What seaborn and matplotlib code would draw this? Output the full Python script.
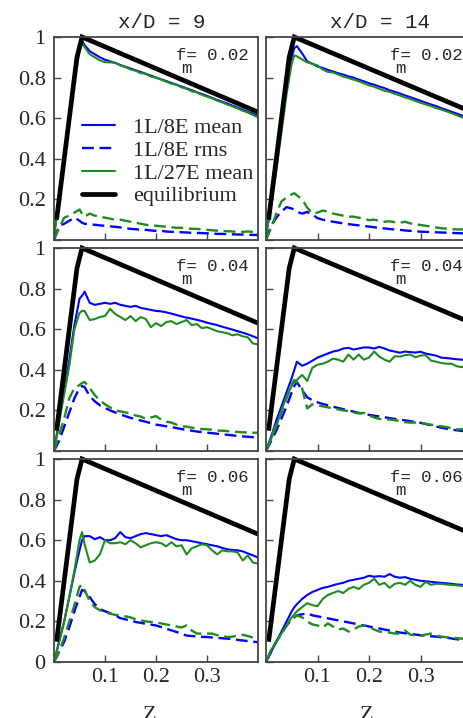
import matplotlib
matplotlib.use('Agg')
import matplotlib.pyplot as plt
from matplotlib.lines import Line2D
import seaborn as sns

sns.set_style('ticks')
plt.rcParams['font.family'] = ['Liberation Serif', 'DejaVu Serif']

# ---------------- data ----------------
Z = [0.0, 0.01, 0.02, 0.03, 0.04, 0.05, 0.055,
     0.06, 0.07, 0.08, 0.09, 0.10,
     0.11, 0.12, 0.13, 0.14, 0.15, 0.16, 0.17, 0.18, 0.19, 0.20,
     0.21, 0.22, 0.23, 0.24, 0.25, 0.26, 0.27, 0.28, 0.29, 0.30,
     0.31, 0.32, 0.33, 0.34, 0.35, 0.36, 0.37, 0.38, 0.39, 0.40]

EQ_Z = [0.005, 0.045, 0.055, 0.40]
EQ_Y = [0.10, 0.90, 1.00, 0.63]

# x/D = 9, f_m = 0.02
b1_mean = [0.02, 0.2, 0.4, 0.6, 0.8, 0.95, 0.98,
           0.96, 0.93, 0.915, 0.90, 0.888,
           0.88, 0.872, 0.862, 0.853, 0.845, 0.836, 0.828, 0.818, 0.81, 0.80,
           0.792, 0.783, 0.774, 0.765, 0.756, 0.747, 0.738, 0.728, 0.719, 0.71,
           0.70, 0.69, 0.681, 0.672, 0.662, 0.652, 0.642, 0.632, 0.622, 0.612]
b1_rms = [0, 0.07, 0.08, 0.095, 0.11, 0.095, 0.085,
          0.08, 0.077, 0.075, 0.072, 0.07,
          0.067, 0.065, 0.062, 0.058, 0.055, 0.053, 0.05, 0.05, 0.047, 0.045,
          0.045, 0.042, 0.04, 0.04, 0.038, 0.037, 0.035, 0.035, 0.034, 0.033,
          0.032, 0.03, 0.03, 0.029, 0.028, 0.027, 0.027, 0.026, 0.025, 0.025]
g1_mean = [0.02, 0.19, 0.38, 0.58, 0.78, 0.93, 0.97,
           0.95, 0.915, 0.9, 0.885, 0.876,
           0.875, 0.874, 0.86, 0.852, 0.84, 0.834, 0.822, 0.82, 0.805, 0.80,
           0.79, 0.78, 0.77, 0.765, 0.752, 0.745, 0.733, 0.727, 0.715, 0.706,
           0.698, 0.686, 0.678, 0.667, 0.658, 0.648, 0.637, 0.628, 0.616, 0.605]
g1_rms = [0, 0.06, 0.11, 0.12, 0.135, 0.15, 0.13,
          0.115, 0.13, 0.12, 0.115, 0.11,
          0.105, 0.1, 0.1, 0.095, 0.09, 0.085, 0.08, 0.075, 0.072, 0.07,
          0.068, 0.065, 0.063, 0.06, 0.06, 0.058, 0.055, 0.055, 0.052, 0.05,
          0.048, 0.046, 0.045, 0.043, 0.042, 0.04, 0.04, 0.042, 0.04, 0.038]

# x/D = 14, f_m = 0.02
b2_mean = [0.02, 0.18, 0.36, 0.56, 0.76, 0.9, 0.945,
           0.955, 0.92, 0.88, 0.868, 0.855,
           0.848, 0.838, 0.83, 0.822, 0.815, 0.806, 0.8, 0.79, 0.782, 0.772,
           0.765, 0.756, 0.748, 0.738, 0.73, 0.722, 0.712, 0.704, 0.695, 0.686,
           0.677, 0.668, 0.66, 0.65, 0.641, 0.632, 0.623, 0.613, 0.604, 0.595]
b2_rms = [0, 0.07, 0.11, 0.14, 0.162, 0.155, 0.15,
          0.14, 0.13, 0.138, 0.125, 0.108,
          0.1, 0.095, 0.09, 0.086, 0.082, 0.078, 0.075, 0.072, 0.069, 0.066,
          0.063, 0.06, 0.057, 0.054, 0.052, 0.05, 0.047, 0.045, 0.043, 0.041,
          0.04, 0.039, 0.038, 0.037, 0.036, 0.035, 0.034, 0.033, 0.033, 0.032]
g2_mean = [0.02, 0.17, 0.34, 0.53, 0.72, 0.87, 0.91,
           0.905, 0.89, 0.875, 0.868, 0.86,
           0.84, 0.828, 0.825, 0.815, 0.805, 0.798, 0.79, 0.782, 0.772, 0.762,
           0.755, 0.745, 0.735, 0.73, 0.72, 0.712, 0.702, 0.695, 0.685, 0.676,
           0.668, 0.66, 0.65, 0.643, 0.634, 0.625, 0.615, 0.605, 0.597, 0.588]
g2_rms = [0, 0.06, 0.13, 0.19, 0.21, 0.225, 0.23,
          0.22, 0.2, 0.16, 0.13, 0.135,
          0.145, 0.14, 0.13, 0.125, 0.12, 0.115, 0.115, 0.11, 0.105, 0.098,
          0.1, 0.095, 0.09, 0.092, 0.088, 0.085, 0.09, 0.082, 0.078, 0.074,
          0.07, 0.066, 0.062, 0.058, 0.056, 0.054, 0.052, 0.052, 0.055, 0.057]

# x/D = 9, f_m = 0.04
b3_mean = [0, 0.15, 0.3, 0.45, 0.62, 0.75, 0.765,
           0.785, 0.73, 0.72, 0.725, 0.73,
           0.725, 0.73, 0.72, 0.715, 0.71, 0.715, 0.705, 0.7, 0.695, 0.69,
           0.688, 0.683, 0.677, 0.67, 0.663, 0.657, 0.652, 0.646, 0.64, 0.632,
           0.626, 0.62, 0.612, 0.605, 0.598, 0.59, 0.583, 0.575, 0.565, 0.555]
b3_rms = [0, 0.05, 0.12, 0.19, 0.26, 0.31, 0.32,
          0.315, 0.27, 0.245, 0.225, 0.212,
          0.2, 0.19, 0.18, 0.172, 0.163, 0.157, 0.15, 0.144, 0.137, 0.13,
          0.126, 0.122, 0.118, 0.113, 0.108, 0.105, 0.1, 0.096, 0.093, 0.09,
          0.088, 0.085, 0.082, 0.08, 0.077, 0.074, 0.072, 0.07, 0.068, 0.066]
g3_mean = [0, 0.14, 0.28, 0.42, 0.6, 0.68, 0.69,
           0.69, 0.645, 0.65, 0.66, 0.665,
           0.70, 0.675, 0.66, 0.645, 0.665, 0.64, 0.66, 0.65, 0.61, 0.63,
           0.615, 0.635, 0.64, 0.625, 0.635, 0.645, 0.62, 0.625, 0.605, 0.61,
           0.6, 0.59, 0.585, 0.58, 0.57, 0.575, 0.565, 0.56, 0.53, 0.525]
g3_rms = [0, 0.08, 0.16, 0.26, 0.31, 0.325, 0.335,
          0.34, 0.31, 0.275, 0.25, 0.23,
          0.215, 0.2, 0.195, 0.19, 0.185, 0.175, 0.17, 0.158, 0.165, 0.172,
          0.155, 0.145, 0.14, 0.13, 0.122, 0.12, 0.115, 0.112, 0.108, 0.107,
          0.105, 0.1, 0.1, 0.098, 0.096, 0.094, 0.092, 0.092, 0.09, 0.09]

# x/D = 14, f_m = 0.04
b4_mean = [0, 0.07, 0.15, 0.22, 0.29, 0.36, 0.4,
           0.44, 0.42, 0.43, 0.445, 0.46,
           0.47, 0.48, 0.49, 0.495, 0.505, 0.508, 0.5, 0.505, 0.51, 0.51,
           0.505, 0.513, 0.505, 0.495, 0.49, 0.484, 0.49, 0.487, 0.485, 0.489,
           0.48, 0.475, 0.47, 0.46, 0.458, 0.455, 0.452, 0.45, 0.448, 0.447]
b4_rms = [0, 0.05, 0.1, 0.16, 0.22, 0.29, 0.32,
          0.34, 0.3, 0.265, 0.25, 0.24,
          0.232, 0.225, 0.218, 0.212, 0.206, 0.2, 0.194, 0.188, 0.183, 0.178,
          0.174, 0.17, 0.166, 0.162, 0.158, 0.155, 0.151, 0.147, 0.143, 0.139,
          0.133, 0.127, 0.121, 0.115, 0.11, 0.106, 0.102, 0.099, 0.097, 0.095]
g4_mean = [0, 0.06, 0.12, 0.2, 0.27, 0.32, 0.34,
           0.35, 0.375, 0.345, 0.41, 0.425,
           0.43, 0.44, 0.455, 0.45, 0.44, 0.475, 0.45, 0.475, 0.45, 0.46,
           0.49, 0.465, 0.45, 0.44, 0.467, 0.465, 0.472, 0.475, 0.462, 0.47,
           0.472, 0.446, 0.44, 0.434, 0.43, 0.43, 0.418, 0.413, 0.425, 0.434]
g4_rms = [0, 0.07, 0.13, 0.19, 0.26, 0.33, 0.35,
          0.34, 0.31, 0.21, 0.23, 0.225,
          0.22, 0.215, 0.21, 0.205, 0.2, 0.197, 0.19, 0.185, 0.188, 0.175,
          0.165, 0.158, 0.156, 0.155, 0.152, 0.148, 0.142, 0.14, 0.14, 0.138,
          0.134, 0.13, 0.126, 0.122, 0.118, 0.112, 0.107, 0.107, 0.112, 0.115]

# x/D = 9, f_m = 0.06
b5_mean = [0, 0.1, 0.2, 0.32, 0.44, 0.55, 0.6,
           0.62, 0.62, 0.605, 0.615, 0.6,
           0.6, 0.61, 0.64, 0.615, 0.61, 0.62, 0.63, 0.635, 0.63, 0.625,
           0.62, 0.625, 0.615, 0.605, 0.6, 0.6, 0.595, 0.59, 0.585, 0.58,
           0.575, 0.57, 0.562, 0.555, 0.552, 0.55, 0.545, 0.535, 0.525, 0.515]
b5_rms = [0, 0.05, 0.1, 0.17, 0.25, 0.32, 0.355,
          0.35, 0.32, 0.285, 0.26, 0.25,
          0.24, 0.23, 0.216, 0.21, 0.205, 0.197, 0.193, 0.188, 0.184, 0.18,
          0.172, 0.164, 0.156, 0.148, 0.14, 0.13, 0.128, 0.126, 0.124, 0.123,
          0.121, 0.119, 0.117, 0.115, 0.112, 0.109, 0.106, 0.103, 0.1, 0.098]
g5_mean = [0, 0.1, 0.2, 0.32, 0.45, 0.6, 0.64,
           0.58, 0.49, 0.5, 0.53, 0.6,
           0.585, 0.585, 0.59, 0.58, 0.6, 0.585, 0.565, 0.575, 0.585, 0.59,
           0.585, 0.57, 0.59, 0.57, 0.575, 0.53, 0.56, 0.57, 0.58, 0.575,
           0.55, 0.53, 0.55, 0.545, 0.545, 0.54, 0.5, 0.525, 0.49, 0.485]
g5_rms = [0, 0.05, 0.12, 0.2, 0.28, 0.37, 0.38,
          0.355, 0.3, 0.27, 0.255, 0.245,
          0.238, 0.232, 0.23, 0.225, 0.22, 0.21, 0.205, 0.2, 0.197, 0.195,
          0.19, 0.185, 0.18, 0.175, 0.17, 0.18, 0.155, 0.14, 0.14, 0.14,
          0.14, 0.132, 0.128, 0.123, 0.125, 0.13, 0.134, 0.128, 0.12, 0.123]

# x/D = 14, f_m = 0.06
b6_mean = [0, 0.05, 0.1, 0.15, 0.2, 0.25, 0.27,
           0.285, 0.31, 0.33, 0.345, 0.355,
           0.365, 0.37, 0.378, 0.385, 0.39, 0.4, 0.405, 0.41, 0.415, 0.425,
           0.42, 0.423, 0.42, 0.433, 0.42, 0.415, 0.418, 0.41, 0.405, 0.4,
           0.398, 0.395, 0.392, 0.39, 0.388, 0.385, 0.382, 0.38, 0.379, 0.378]
b6_rms = [0, 0.05, 0.1, 0.14, 0.18, 0.21, 0.22,
          0.23, 0.235, 0.24, 0.23, 0.225,
          0.22, 0.215, 0.21, 0.205, 0.2, 0.195, 0.19, 0.185, 0.18, 0.175,
          0.17, 0.165, 0.16, 0.155, 0.15, 0.145, 0.142, 0.14, 0.135, 0.132,
          0.13, 0.127, 0.125, 0.122, 0.12, 0.116, 0.112, 0.11, 0.107, 0.105]
g6_mean = [0, 0.06, 0.1, 0.14, 0.18, 0.22, 0.235,
           0.25, 0.27, 0.29, 0.28, 0.275,
           0.31, 0.33, 0.34, 0.35, 0.34, 0.36, 0.37, 0.36, 0.38, 0.39,
           0.41, 0.38, 0.39, 0.365, 0.385, 0.39, 0.38, 0.4, 0.38, 0.37,
           0.395, 0.38, 0.385, 0.385, 0.382, 0.38, 0.378, 0.375, 0.372, 0.37]
g6_rms = [0, 0.06, 0.1, 0.14, 0.18, 0.21, 0.22,
          0.23, 0.22, 0.2, 0.185, 0.18,
          0.17, 0.19, 0.175, 0.16, 0.165, 0.15, 0.16, 0.175, 0.18, 0.175,
          0.16, 0.15, 0.148, 0.145, 0.14, 0.14, 0.155, 0.135, 0.132, 0.13,
          0.135, 0.14, 0.13, 0.125, 0.122, 0.12, 0.118, 0.115, 0.115, 0.115]

col_titles = ['x/D = 9', 'x/D = 14']
fm_labels = ['0.02', '0.04', '0.06']
legend_labels = ['1L/8E mean', '1L/8E rms', '1L/27E mean', 'equilibrium']
x_ticks = [0.1, 0.2, 0.3]
x_ticklabels = ['0.1', '0.2', '0.3']
y_ticks = [0, 0.2, 0.4, 0.6, 0.8, 1.0]
y_ticklabels = ['0', '0.2', '0.4', '0.6', '0.8', '1']

panels = [
    [(b1_mean, b1_rms, g1_mean, g1_rms), (b2_mean, b2_rms, g2_mean, g2_rms)],
    [(b3_mean, b3_rms, g3_mean, g3_rms), (b4_mean, b4_rms, g4_mean, g4_rms)],
    [(b5_mean, b5_rms, g5_mean, g5_rms), (b6_mean, b6_rms, g6_mean, g6_rms)],
]

# ---------------- layout ----------------
W, H = 463, 718
fig = plt.figure(figsize=(W / 100, H / 100), dpi=100)
fig.patch.set_facecolor('white')

def rect(l, t, w, h):
    return [l / W, (H - t - h) / H, w / W, h / H]

col_pos = [(54, 204), (266, 206)]
row_top = [37, 248, 459]
PH = 203

BLUE = '#0000ff'
GREEN = '#1e8c1e'
DASH = (0, (5, 2.4))
MONO = 'Liberation Mono'

for r in range(3):
    for c in range(2):
        l, w = col_pos[c]
        ax = fig.add_axes(rect(l, row_top[r], w, PH))
        bm, br, gm, gr = panels[r][c]
        sns.lineplot(x=Z, y=bm, ax=ax, color=BLUE, lw=1.5)
        sns.lineplot(x=Z, y=br, ax=ax, color=BLUE, lw=1.7)
        ax.lines[-1].set_linestyle(DASH)
        sns.lineplot(x=Z, y=gm, ax=ax, color=GREEN, lw=1.5)
        sns.lineplot(x=Z, y=gr, ax=ax, color=GREEN, lw=1.7)
        ax.lines[-1].set_linestyle(DASH)
        sns.lineplot(x=EQ_Z, y=EQ_Y, ax=ax, color='black', lw=3.4)
        eq = ax.lines[-1]
        eq.set_clip_on(False)
        eq.set_solid_joinstyle('miter')
        eq.set_solid_capstyle('butt')

        ax.set_xlim(0, 0.4)
        ax.set_ylim(0, 1)
        ax.set_xlabel('')
        ax.set_ylabel('')
        ax.set_xticks(x_ticks)
        ax.set_yticks(y_ticks)
        if r == 2:
            ax.set_xticklabels(x_ticklabels)
        else:
            ax.set_xticklabels([])
        if c == 0:
            labs = list(y_ticklabels)
            if r < 2:
                labs[0] = ''
            ax.set_yticklabels(labs)
        else:
            ax.set_yticklabels([])
        ax.tick_params(axis='both', direction='in', length=5, width=1.0,
                       color='#444444', labelsize=16, top=False, right=False)
        ax.tick_params(axis='y', pad=6)
        ax.tick_params(axis='x', pad=4)
        for sp in ax.spines.values():
            sp.set_color('#444444')
            sp.set_linewidth(1.3)

        # f_m annotation
        ax.text(0.6, 0.887, 'f= ' + fm_labels[r], transform=ax.transAxes,
                family=MONO, fontsize=12.5, ha='left', va='baseline')
        ax.text(0.625, 0.822, 'm', transform=ax.transAxes, family=MONO,
                fontsize=12.5, ha='left', va='baseline')

        if r == 0:
            tx = 0.53 if c == 0 else 0.555
            ax.text(tx, 1.044, col_titles[c], transform=ax.transAxes,
                    family=MONO, fontsize=15, ha='center', va='baseline')
        if r == 0 and c == 0:
            handles = [Line2D([], [], color=BLUE, lw=1.5),
                       Line2D([], [], color=BLUE, lw=1.7, linestyle=DASH),
                       Line2D([], [], color=GREEN, lw=1.5),
                       Line2D([], [], color='black', lw=3.4)]
            ax.legend(handles, legend_labels, loc='center left',
                      bbox_to_anchor=(0.137, 0.384), frameon=False,
                      fontsize=16, handlelength=1.5, handletextpad=0.8,
                      labelspacing=0.1, borderpad=0, borderaxespad=0)

fig.text(150 / W, -2 / H, 'Z', fontsize=16, ha='center', va='baseline')
fig.text(367 / W, -2 / H, 'Z', fontsize=16, ha='center', va='baseline')

fig.savefig('out.png', dpi=100)
